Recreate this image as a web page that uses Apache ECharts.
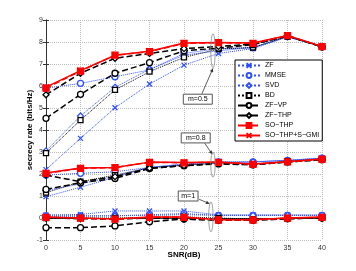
<!DOCTYPE html>
<html><head><meta charset="utf-8">
<script src="https://cdn.jsdelivr.net/npm/echarts@6/dist/echarts.min.js"></script>
<style>html,body{margin:0;padding:0;background:#fff}#c{width:356px;height:271px}</style>
</head><body><div id="c"></div>
<script>
var snr = [0,5,10,15,20,25,30,35,40];
var xTicks = [0,5,10,15,20,25,30,35,40];
var yTicks = [-1,0,1,2,3,4,5,6,7,8,9];
// m = 0.5
var zf05    = [2.2,3.62,5.01,6.09,6.95,7.48,7.7,8.22,7.8];
var mmse05  = [5.9,6.12,6.42,6.73,7.48,7.7,7.74,8.25,7.78];
var svd05   = [3.05,4.64,5.94,6.76,7.4,7.6,7.75,8.25,7.8];
var bd05    = [2.95,4.45,5.82,6.65,7.3,7.68,7.75,8.25,7.8];
var zfvp05  = [4.53,5.62,6.58,7.06,7.6,7.72,7.88,8.27,7.78];
var zfthp05 = [5.6,6.58,7.26,7.48,7.7,7.8,7.9,8.28,7.78];
var sothp05 = [5.9,6.68,7.4,7.56,7.94,7.97,7.94,8.29,7.79];
var sogmi05 = [5.95,6.7,7.4,7.58,7.95,7.98,7.95,8.3,7.8];
// m = 0.8
var zf08    = [0.97,1.4,1.85,2.3,2.4,2.5,2.55,2.62,2.72];
var mmse08  = [1.95,2.03,2.1,2.3,2.45,2.55,2.55,2.62,2.72];
var svd08   = [1.25,1.55,1.9,2.3,2.45,2.55,2.55,2.62,2.72];
var bd08    = [1.15,1.65,1.95,2.28,2.4,2.5,2.45,2.58,2.68];
var zfvp08  = [1.3,1.6,1.8,2.25,2.38,2.46,2.42,2.55,2.65];
var zfthp08 = [1.95,1.65,1.88,2.26,2.38,2.48,2.42,2.55,2.65];
var sothp08 = [2.03,2.26,2.29,2.53,2.51,2.53,2.44,2.55,2.67];
var sogmi08 = [2.05,2.27,2.3,2.54,2.52,2.54,2.45,2.56,2.68];
// m = 1
var zf1     = [0.14,0.16,0.32,0.32,0.32,0.14,0.14,0.14,0.14];
var mmse1   = [0.1,0.1,0.1,0.15,0.2,0.12,0.12,0.12,0.12];
var svd1    = [0.08,0.08,0.1,0.12,0.15,0.12,0.12,0.12,0.12];
var bd1     = [0.0,0.0,0.0,0.02,0.05,0.0,-0.05,0.0,0.03];
var zfvp1   = [-0.44,-0.44,-0.36,-0.17,-0.05,-0.1,-0.1,-0.03,0.0];
var zfthp1  = [0.0,-0.03,-0.05,0.0,-0.05,-0.1,-0.1,-0.03,0.0];
var sothp1  = [0.03,-0.01,-0.05,0.03,0.03,-0.09,-0.09,-0.01,0.03];
var sogmi1  = [0.04,0.0,-0.04,0.04,0.04,-0.08,-0.08,0.0,0.04];

var names = ['ZF','MMSE','SVD','BD','ZF\u2212VP','ZF\u2212THP','SO\u2212THP','SO\u2212THP+S\u2212GMI'];
var BLUE = '#3050ff', BLACK = '#000', RED = '#ff0000';
var styles = [
  {color:BLUE, type:'dotted', w:1, sym:'path://M0,0L10,10M10,0L0,10', size:5, fill:false},
  {color:BLUE, type:'dotted', w:1, sym:'circle', size:6, fill:false},
  {color:BLUE, type:'dotted', w:1, sym:'diamond', size:6, fill:false},
  {color:BLACK, type:'dotted', w:1, sym:'rect', size:5, fill:false},
  {color:BLACK, type:'dashed', w:1.5, sym:'circle', size:6, fill:false},
  {color:BLACK, type:'dashed', w:1.5, sym:'diamond', size:6, fill:false},
  {color:RED, type:'dashed', w:1.5, sym:'rect', size:6, fill:true},
  {color:RED, type:'solid', w:1.5, sym:'path://M0,0L10,10M10,0L0,10', size:6, fill:false}
];
var groups = [
  [zf05,mmse05,svd05,bd05,zfvp05,zfthp05,sothp05,sogmi05],
  [zf08,mmse08,svd08,bd08,zfvp08,zfthp08,sothp08,sogmi08],
  [zf1,mmse1,svd1,bd1,zfvp1,zfthp1,sothp1,sogmi1]
];
var series = [];
groups.forEach(function(g){
  g.forEach(function(vals,i){
    var s = styles[i];
    series.push({
      name: names[i], type:'line', xAxisIndex:0, yAxisIndex:0,
      data: snr.map(function(x,k){return [x, vals[k]];}),
      symbol: s.sym, symbolSize: s.size, showAllSymbol:true,
      lineStyle:{color:s.color, width:s.w, type:s.type},
      itemStyle:{color: s.fill ? s.color : '#fff', borderColor:s.color, borderWidth:1.3},
      z: 2 + i, animation:false
    });
  });
});

var chart = echarts.init(document.getElementById('c'), null, {renderer:'canvas'});
var axisFont = {fontFamily:'Liberation Sans', fontSize:7, color:'#333'};
var grid = {left:46, right:34, top:20, bottom:31};
chart.setOption({
  backgroundColor:'#fff',
  animation:false,
  grid: grid,
  legend: {
    data: names, orient:'vertical', left:235, top:60,
    backgroundColor:'#fff', borderColor:'#000', borderWidth:1,
    padding:[2,3,2,2], itemGap:3, itemWidth:22, itemHeight:6,
    textStyle:{fontFamily:'Liberation Sans', fontSize:7, color:'#000'}
  },
  xAxis: [
    {type:'value', min:0, max:40, interval:5, position:'bottom',
     name:'SNR(dB)', nameLocation:'middle', nameGap:11, nameMoveOverlap:false,
     nameTextStyle:{fontFamily:'Liberation Sans', fontSize:8, fontWeight:'bold', color:'#000'},
     axisLine:{lineStyle:{color:'#333', width:1}},
     axisTick:{inside:true, length:3, lineStyle:{color:'#333'}},
     axisLabel:Object.assign({margin:5, formatter:function(v){return xTicks.indexOf(v)>=0?String(v):'';}}, axisFont),
     splitLine:{show:true, lineStyle:{color:'#bbb', type:'dotted', width:1}}},
    {type:'value', min:0, max:40, interval:5, position:'top',
     axisLine:{show:true, lineStyle:{color:'#333'}},
     axisTick:{inside:true, length:3, lineStyle:{color:'#333'}},
     axisLabel:{show:false}, splitLine:{show:false}}
  ],
  yAxis: [
    {type:'value', min:-1, max:9, interval:1, position:'left',
     name:'secrecy rate (bits/Hz)', nameLocation:'middle', nameGap:12, nameMoveOverlap:false,
     nameTextStyle:{fontFamily:'Liberation Sans', fontSize:8, fontWeight:'bold', color:'#000'},
     axisLine:{show:true, lineStyle:{color:'#333', width:1}},
     axisTick:{show:true, inside:true, length:3, lineStyle:{color:'#333'}},
     axisLabel:Object.assign({margin:3, formatter:function(v){return yTicks.indexOf(v)>=0?String(v):'';}}, axisFont),
     splitLine:{show:true, lineStyle:{color:'#bbb', type:'dotted', width:1}}},
    {type:'value', min:-1, max:9, interval:1, position:'right',
     axisLine:{show:true, lineStyle:{color:'#333'}},
     axisTick:{show:true, inside:true, length:3, lineStyle:{color:'#333'}},
     axisLabel:{show:false}, splitLine:{show:false}}
  ],
  series: series
});

// annotations in data coordinates
function P(x,y){return chart.convertToPixel({gridIndex:0},[x,y]);}
var notes = [
  {label:'m=0.5', box:[22.0,5.4], from:[22.6,5.65], to:[24.2,6.8], ell:[24.2,7.6], ry:0.77},
  {label:'m=0.8', box:[21.7,3.64], from:[23.0,3.4], to:[24.1,2.9], ell:[24.2,2.43], ry:0.57},
  {label:'m=1',   box:[20.6,1.0],  from:[22.2,0.85], to:[23.7,0.65], ell:[23.9,0.05], ry:0.68}
];
var gr = [];
notes.forEach(function(n){
  var c = P(n.box[0], n.box[1]);
  var w = n.label.length*4.6+6, h = 10;
  gr.push({type:'rect', shape:{x:c[0]-w/2, y:c[1]-h/2, width:w, height:h},
    style:{fill:'#fff', stroke:'#555', lineWidth:1}, z:20});
  gr.push({type:'text', x:c[0], y:c[1], style:{text:n.label, fontFamily:'Liberation Sans', fontSize:7,
    fill:'#000', align:'center', verticalAlign:'middle'}, z:21});
  var a = P(n.from[0], n.from[1]), b = P(n.to[0], n.to[1]);
  gr.push({type:'line', shape:{x1:a[0], y1:a[1], x2:b[0], y2:b[1]}, style:{stroke:'#333', lineWidth:0.8}, z:20});
  var ang = Math.atan2(b[1]-a[1], b[0]-a[0]), L=4, sp=0.45;
  gr.push({type:'polygon', shape:{points:[[b[0],b[1]],
    [b[0]-L*Math.cos(ang-sp), b[1]-L*Math.sin(ang-sp)],
    [b[0]-L*Math.cos(ang+sp), b[1]-L*Math.sin(ang+sp)]]}, style:{fill:'#333'}, z:20});
  var e = P(n.ell[0], n.ell[1]), e2 = P(n.ell[0], n.ell[1]+n.ry);
  gr.push({type:'ellipse', shape:{cx:e[0], cy:e[1], rx:2.2, ry:Math.abs(e[1]-e2[1])},
    style:{fill:'none', stroke:'#888', lineWidth:0.8}, z:20});
});
chart.setOption({graphic: gr});
</script></body></html>
